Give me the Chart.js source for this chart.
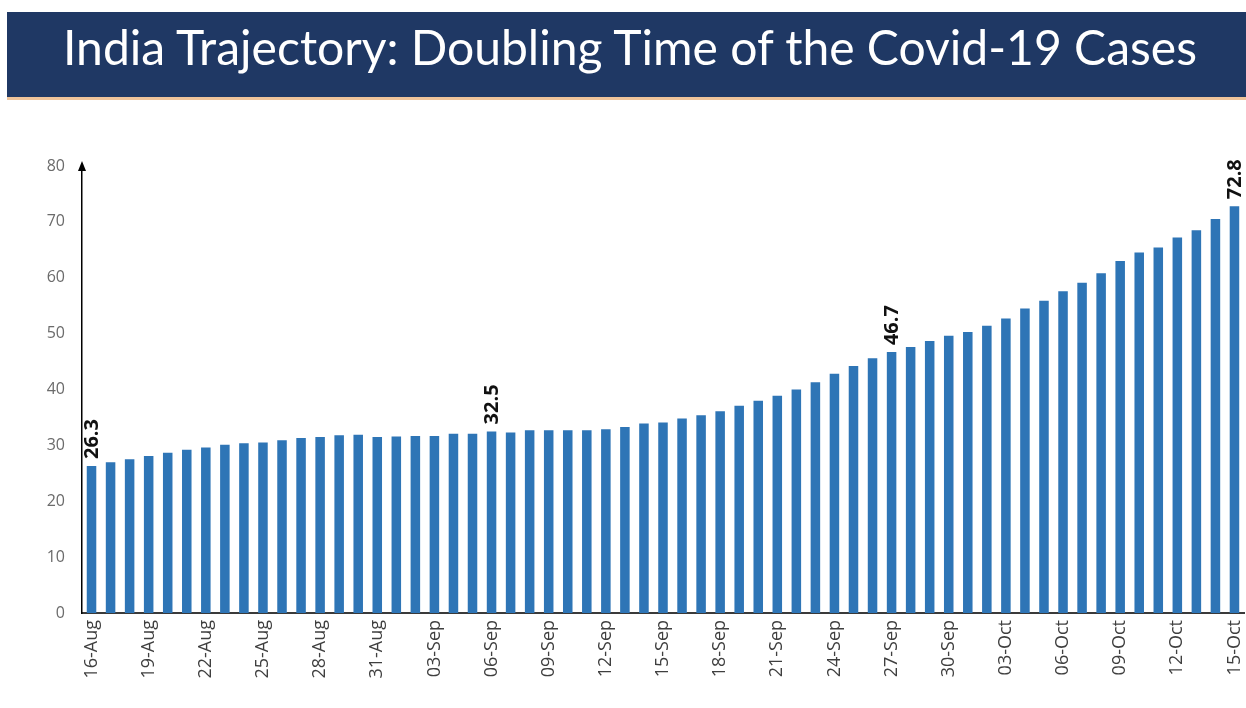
<!DOCTYPE html>
<html>
<head>
<meta charset="utf-8">
<title>India Trajectory: Doubling Time</title>
<script src="https://cdn.jsdelivr.net/npm/chart.js@4.4.0/dist/chart.umd.min.js"></script>
<style>
  html, body { margin: 0; padding: 0; background: #fff; }
  body { width: 1246px; height: 708px; position: relative; overflow: hidden; }
  .banner {
    position: absolute; left: 7px; top: 12px; width: 1239px; height: 85px;
    background: #1f3864; border-bottom: 3px solid #efc49b;
  }
  .title {
    position: absolute; left: 63px; top: 23px; color: #fff;
    font-family: Lato, "Open Sans", sans-serif; font-size: 48px; line-height: 1;
    white-space: nowrap; transform-origin: left top;
  }
  .chart-box { position: absolute; left: 0; top: 110px; width: 1246px; height: 598px; }
</style>
</head>
<body>
<div class="banner"></div>
<div class="title" id="title">India Trajectory: Doubling Time of the Covid-19 Cases</div>
<div class="chart-box"><canvas id="doublingChart"></canvas></div>

<script>
const days = [
  '16-Aug', '17-Aug', '18-Aug', '19-Aug', '20-Aug', '21-Aug', '22-Aug', '23-Aug',
  '24-Aug', '25-Aug', '26-Aug', '27-Aug', '28-Aug', '29-Aug', '30-Aug', '31-Aug',
  '01-Sep', '02-Sep', '03-Sep', '04-Sep', '05-Sep', '06-Sep', '07-Sep', '08-Sep',
  '09-Sep', '10-Sep', '11-Sep', '12-Sep', '13-Sep', '14-Sep', '15-Sep', '16-Sep',
  '17-Sep', '18-Sep', '19-Sep', '20-Sep', '21-Sep', '22-Sep', '23-Sep', '24-Sep',
  '25-Sep', '26-Sep', '27-Sep', '28-Sep', '29-Sep', '30-Sep', '01-Oct', '02-Oct',
  '03-Oct', '04-Oct', '05-Oct', '06-Oct', '07-Oct', '08-Oct', '09-Oct', '10-Oct',
  '11-Oct', '12-Oct', '13-Oct', '14-Oct', '15-Oct'
];

// doubling time in days
const doublingTime = [
  26.3, 27.0, 27.5, 28.1, 28.7, 29.2, 29.6, 30.1,
  30.4, 30.5, 30.9, 31.3, 31.5, 31.8, 31.9, 31.5,
  31.6, 31.7, 31.7, 32.1, 32.1, 32.5, 32.3, 32.7,
  32.7, 32.7, 32.7, 32.9, 33.3, 33.9, 34.1, 34.8,
  35.4, 36.1, 37.1, 38.0, 38.9, 40.0, 41.3, 42.8,
  44.2, 45.6, 46.7, 47.6, 48.7, 49.6, 50.3, 51.4,
  52.7, 54.5, 55.9, 57.6, 59.1, 60.8, 63.0, 64.5,
  65.4, 67.2, 68.5, 70.5, 72.8
];

// bars that carry a value label
const labelledDays = ['16-Aug', '06-Sep', '27-Sep', '15-Oct'];

const yTicks = [0, 10, 20, 30, 40, 50, 60, 70, 80];

const extrasPlugin = {
  id: 'extras',
  afterDatasetsDraw(chart) {
    const ctx = chart.ctx;
    const meta = chart.getDatasetMeta(0);
    ctx.save();
    ctx.font = 'bold 20px "Open Sans"';
    ctx.fillStyle = '#111';
    ctx.textAlign = 'left';
    ctx.textBaseline = 'middle';
    labelledDays.forEach(day => {
      const i = days.indexOf(day);
      const bar = meta.data[i];
      ctx.save();
      ctx.translate(bar.x + 1, bar.y - 7);
      ctx.rotate(-Math.PI / 2);
      ctx.fillText(doublingTime[i].toFixed(1), 0, 0);
      ctx.restore();
    });

    // arrow head on top of the y axis
    const xAxis = chart.scales.x.left;
    const top = chart.chartArea.top;
    ctx.fillStyle = '#000';
    ctx.beginPath();
    ctx.moveTo(xAxis, top - 5);
    ctx.lineTo(xAxis - 4, top + 5);
    ctx.lineTo(xAxis + 4, top + 5);
    ctx.closePath();
    ctx.fill();
    ctx.restore();
  }
};

function drawChart() {
  // fit the banner title to the width it has in the slide
  const titleEl = document.getElementById('title');
  const titleWidth = titleEl.getBoundingClientRect().width;
  titleEl.style.transform = 'scaleX(' + (1134 / titleWidth) + ')';

  new Chart(document.getElementById('doublingChart'), {
    type: 'bar',
    data: {
      labels: days,
      datasets: [{
        data: doublingTime,
        backgroundColor: '#2e75b6',
        borderWidth: 0,
        categoryPercentage: 1,
        barPercentage: 0.5
      }]
    },
    options: {
      responsive: true,
      maintainAspectRatio: false,
      animation: false,
      events: [],
      layout: {
        padding: { left: 0, right: 2, top: 56, bottom: 0 }
      },
      plugins: {
        legend: { display: false },
        tooltip: { enabled: false }
      },
      scales: {
        x: {
          offset: true,
          grid: { display: false, drawTicks: false },
          border: { display: true, color: '#3a3a3a', width: 2 },
          ticks: {
            autoSkip: false,
            maxRotation: 90,
            minRotation: 90,
            padding: 7,
            color: '#3f3f3f',
            font: { family: 'Open Sans', size: 18 },
            callback: (value, index) => index % 3 === 0 ? days[index] : ''
          },
          afterFit: (scale) => {
            scale.height = 95;
            scale.paddingLeft = 0;
            scale.paddingRight = 0;
          }
        },
        y: {
          min: 0,
          max: 80,
          grid: { display: false, drawTicks: false },
          border: { display: true, color: '#000', width: 1.5 },
          afterBuildTicks: (scale) => { scale.ticks = yTicks.map(v => ({ value: v })); },
          ticks: {
            padding: 17,
            color: '#6b6b6b',
            font: { family: 'Open Sans', size: 16 }
          },
          afterFit: (scale) => { scale.width = 82; }
        }
      }
    },
    plugins: [extrasPlugin]
  });
}

Promise.all([
  document.fonts.load('16px "Open Sans"'),
  document.fonts.load('bold 20px "Open Sans"'),
  document.fonts.load('48px Lato')
]).then(drawChart, drawChart);
</script>
</body>
</html>
